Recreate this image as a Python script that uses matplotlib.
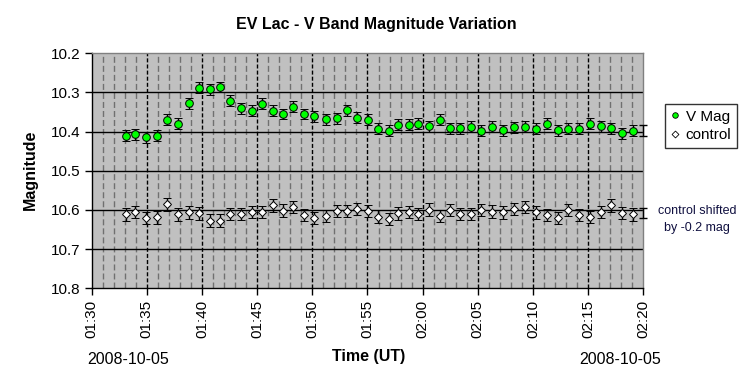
import matplotlib
matplotlib.use("Agg")
import matplotlib.pyplot as plt
from matplotlib.lines import Line2D

plt.rcParams['font.family'] = ['Liberation Sans', 'DejaVu Sans']
plt.rcParams['lines.scale_dashes'] = False

# minutes after 01:30 UT
t_min = [3.13, 3.94, 4.94, 5.90, 6.84, 7.86, 8.83, 9.73, 10.70, 11.63,
         12.50, 13.50, 14.49, 15.42, 16.42, 17.32, 18.29, 19.22, 20.19, 21.21,
         22.20, 23.11, 24.01, 25.01, 25.98, 26.91, 27.81, 28.72, 29.62, 30.61,
         31.55, 32.49, 33.42, 34.39, 35.32, 36.28, 37.28, 38.27, 39.29, 40.26,
         41.28, 42.25, 43.16, 44.15, 45.17, 46.14, 47.07, 48.06, 49.03]

v_mag = [10.410, 10.407, 10.414, 10.410, 10.370, 10.380, 10.327, 10.288, 10.292, 10.286,
         10.321, 10.340, 10.347, 10.329, 10.347, 10.355, 10.337, 10.355, 10.361, 10.368,
         10.366, 10.345, 10.365, 10.370, 10.392, 10.398, 10.383, 10.383, 10.380, 10.386,
         10.370, 10.391, 10.391, 10.388, 10.398, 10.388, 10.396, 10.389, 10.388, 10.393,
         10.380, 10.396, 10.392, 10.393, 10.380, 10.386, 10.391, 10.404, 10.398]

control = [10.611, 10.605, 10.621, 10.619, 10.586, 10.611, 10.606, 10.609, 10.627, 10.627,
           10.610, 10.610, 10.605, 10.605, 10.588, 10.602, 10.592, 10.613, 10.621, 10.615,
           10.603, 10.603, 10.598, 10.603, 10.617, 10.623, 10.609, 10.605, 10.610, 10.599,
           10.615, 10.600, 10.610, 10.610, 10.600, 10.604, 10.606, 10.598, 10.593, 10.606,
           10.613, 10.621, 10.600, 10.613, 10.618, 10.605, 10.588, 10.608, 10.611]

v_err = 0.014
c_err = 0.016

# representative error bars at right edge
rep_t = 49.95
rep_v = 10.397
rep_c = 10.608
rep_err = 0.013

x_ticks = [0, 5, 10, 15, 20, 25, 30, 35, 40, 45, 50]
x_labels = ["01:30", "01:35", "01:40", "01:45", "01:50", "01:55",
            "02:00", "02:05", "02:10", "02:15", "02:20"]
y_ticks = [10.2, 10.3, 10.4, 10.5, 10.6, 10.7, 10.8]

fig = plt.figure(figsize=(7.53, 3.86), dpi=100)
ax = fig.add_axes([91.7/753, 1-288.3/386, (643.3-91.7)/753, (288.3-53.3)/386])
ax.set_facecolor('#C0C0C0')

ax.set_xlim(0, 50)
ax.set_ylim(10.8, 10.2)

# grid
for m in range(1, 50):
    if m % 5 == 0:
        ax.axvline(m, color='black', lw=1, dashes=(2.9, 1.5), zorder=1)
    else:
        ax.axvline(m, color='#707070', lw=1, dashes=(4.3, 2.2), zorder=1)
for y in y_ticks[1:-1]:
    ax.axhline(y, color='black', lw=1, zorder=1)

ax.errorbar(t_min, v_mag, yerr=v_err, fmt='o', ms=5.5, mfc='#00FF00', mec='black',
            mew=0.7, ecolor='black', elinewidth=1, capsize=3.2, capthick=1, zorder=3,
            label='V Mag')
ax.errorbar(t_min, control, yerr=c_err, fmt='D', ms=4.5, mfc='white', mec='black',
            mew=0.7, ecolor='black', elinewidth=1, capsize=3.2, capthick=1, zorder=3,
            label='control')
for yy in (rep_v, rep_c):
    ax.errorbar([rep_t], [yy], yerr=rep_err, fmt='none', ecolor='black',
                elinewidth=1, capsize=3.2, capthick=1, zorder=4, clip_on=False)

ax.set_xticks(x_ticks)
ax.set_xticklabels(x_labels, rotation=90, fontsize=11)
ax.set_yticks(y_ticks)
ax.set_yticklabels([f"{v:.1f}" for v in y_ticks], fontsize=11)
ax.tick_params(axis='both', direction='out', length=5, width=1, color='black', pad=3)

for s in ('left', 'bottom'):
    ax.spines[s].set_color('black')
    ax.spines[s].set_linewidth(1)
for s in ('top', 'right'):
    ax.spines[s].set_color('#808080')
    ax.spines[s].set_linewidth(1)

fig.text(376/753, 1-24/386, "EV Lac - V Band Magnitude Variation", ha='center', va='center',
         fontsize=11.5, fontweight='bold')
fig.text(30/753, 1-170/386, "Magnitude", rotation=90, ha='center', va='center',
         fontsize=11.5, fontweight='bold')
fig.text(369/753, 1-357/386, "Time (UT)", ha='center', va='center',
         fontsize=11.5, fontweight='bold')
fig.text(128/753, 1-359/386, "2008-10-05", ha='center', va='center', fontsize=11.5)
fig.text(620/753, 1-359/386, "2008-10-05", ha='center', va='center', fontsize=11.5)

fig.text(697/753, 1-211/386, "control shifted", ha='center', va='center',
         fontsize=9, color='#101040')
fig.text(697/753, 1-228/386, "by -0.2 mag", ha='center', va='center',
         fontsize=9, color='#101040')

handles = [Line2D([], [], ls='none', marker='o', ms=4, mfc='#00FF00', mec='black', mew=0.6),
           Line2D([], [], ls='none', marker='D', ms=3.5, mfc='white', mec='black', mew=0.6)]
leg = fig.legend(handles, ['V Mag', 'control'], loc='center',
                 bbox_to_anchor=(701/753, 1-126/386), fontsize=11, frameon=True,
                 fancybox=False, edgecolor='black', handlelength=0.6, handletextpad=0.4,
                 borderpad=0.35, labelspacing=0.3, borderaxespad=0)
leg.get_frame().set_linewidth(1)

fig.savefig("out.png", dpi=100)
